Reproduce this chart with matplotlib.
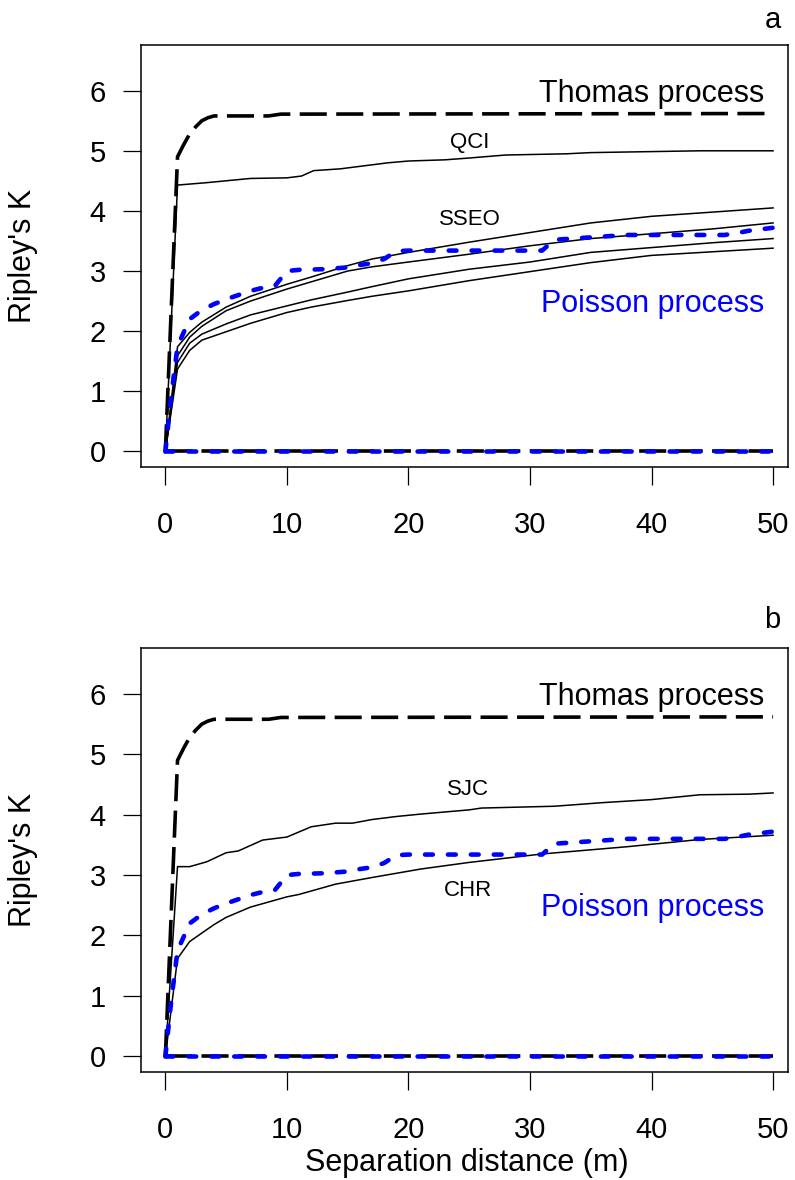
import matplotlib
matplotlib.use("Agg")
import matplotlib.pyplot as plt

plt.rcParams['font.family'] = ['Liberation Sans', 'DejaVu Sans']

# envelopes (same in both panels)
thomas_x = [0, 1, 1.5, 2, 2.5, 3, 3.5, 4, 8.5, 9.5, 50]
thomas_y = [0, 4.9, 5.1, 5.28, 5.4, 5.5, 5.55, 5.58, 5.58, 5.61, 5.62]
poisson_x = [0, 0.5, 1, 2, 3, 4, 5, 6, 7, 8, 9, 10, 11, 13, 15, 16, 17, 18, 19, 20, 31, 32, 35, 38, 46, 47, 48, 50]
poisson_y = [0, 0.95, 1.75, 2.2, 2.35, 2.45, 2.53, 2.6, 2.67, 2.72, 2.75, 3.0, 3.02, 3.03, 3.06, 3.1, 3.13, 3.2, 3.33, 3.34, 3.34, 3.52, 3.56, 3.6, 3.6, 3.63, 3.67, 3.72]
lower_x = [0, 50]
lower_y = [0, 0]

# panel a
qci_x = [0, 1, 3.4, 7, 10, 11.2, 12.2, 14.4, 18.3, 20, 23, 25, 28, 33, 35, 44, 50]
qci_y = [0, 4.43, 4.47, 4.54, 4.55, 4.58, 4.67, 4.70, 4.80, 4.83, 4.85, 4.88, 4.93, 4.95, 4.97, 5.0, 5.0]
sseo_x = [0, 1, 2, 3, 5, 7, 10, 12, 15, 17, 20, 25, 30, 35, 40, 45, 50]
sseo_1 = [0, 1.74, 1.98, 2.15, 2.40, 2.58, 2.78, 2.9, 3.09, 3.2, 3.31, 3.48, 3.64, 3.80, 3.91, 3.98, 4.05]
sseo_2 = [0, 1.59, 1.90, 2.08, 2.34, 2.50, 2.70, 2.82, 3.0, 3.07, 3.15, 3.28, 3.42, 3.54, 3.62, 3.70, 3.80]
sseo_3 = [0, 1.48, 1.80, 1.95, 2.12, 2.27, 2.42, 2.52, 2.65, 2.74, 2.87, 3.03, 3.15, 3.31, 3.39, 3.47, 3.54]
sseo_4 = [0, 1.37, 1.68, 1.85, 1.99, 2.13, 2.31, 2.40, 2.51, 2.58, 2.67, 2.84, 2.99, 3.14, 3.26, 3.32, 3.38]

# panel b
sjc_x = [0, 1, 2, 3.4, 5, 6, 8, 10, 12, 14, 15.4, 17, 19, 21, 25, 26, 32, 36, 40, 44, 48, 50]
sjc_y = [0, 3.14, 3.14, 3.22, 3.37, 3.40, 3.58, 3.63, 3.80, 3.86, 3.86, 3.92, 3.97, 4.01, 4.08, 4.11, 4.14, 4.2, 4.25, 4.33, 4.34, 4.36]
chr_x = [0, 1, 2, 4, 5, 7, 10, 11, 14, 17, 19, 21, 25, 31, 38, 44, 50]
chr_y = [0, 1.62, 1.9, 2.18, 2.3, 2.47, 2.64, 2.68, 2.85, 2.96, 3.03, 3.10, 3.21, 3.35, 3.47, 3.59, 3.66]

xticks = [0, 10, 20, 30, 40, 50]
yticks = [0, 1, 2, 3, 4, 5, 6]

W, H = 795, 1180
fig = plt.figure(figsize=(W / 100, H / 100), dpi=100)


def px_axes(left, top, right, bottom):
    return fig.add_axes([left / W, 1 - bottom / H, (right - left) / W, (bottom - top) / H])


def style(ax):
    ax.set_xlim(-2.03, 51.23)
    ax.set_ylim(-0.26, 6.76)
    ax.set_xticks(xticks)
    ax.set_yticks(yticks)
    ax.tick_params(axis='both', direction='out', length=13, width=0.9, labelsize=21)
    ax.tick_params(axis='x', pad=19)
    ax.tick_params(axis='y', pad=12)
    for s in ax.spines.values():
        s.set_linewidth(1.1)


def envelopes(ax):
    kw_t = dict(color='black', lw=2.6, dashes=(7.5, 2.6), dash_capstyle='butt', solid_capstyle='round')
    ax.plot(thomas_x, thomas_y, **kw_t)
    ax.plot(lower_x, lower_y, **kw_t)
    kw_p = dict(color='#0000ff', lw=3.3, dashes=(1.7, 3.3), dash_capstyle='round')
    ax.plot(poisson_x, poisson_y, **kw_p)
    ax.plot(lower_x, lower_y, **kw_p)
    ax.text(49.3, 5.95, 'Thomas process', ha='right', va='center', fontsize=22)


solid = dict(color='black', lw=1.1)

ax1 = px_axes(140.7, 45, 788, 467)
style(ax1)
for yy in [sseo_4, sseo_3, sseo_2, sseo_1]:
    ax1.plot(sseo_x, yy, **solid)
ax1.plot(qci_x, qci_y, **solid)
envelopes(ax1)
ax1.text(49.3, 2.45, 'Poisson process', ha='right', va='center', fontsize=22, color='#0000ff')
ax1.text(25.06, 5.14, 'QCI', ha='center', va='center', fontsize=16)
ax1.text(25.06, 3.85, 'SSEO', ha='center', va='center', fontsize=16)

ax2 = px_axes(140.7, 648, 788, 1072)
style(ax2)
ax2.plot(sjc_x, sjc_y, **solid)
ax2.plot(chr_x, chr_y, **solid)
envelopes(ax2)
ax2.text(49.3, 2.45, 'Poisson process', ha='right', va='center', fontsize=22, color='#0000ff')
ax2.text(24.9, 4.42, 'SJC', ha='center', va='center', fontsize=16)
ax2.text(24.9, 2.75, 'CHR', ha='center', va='center', fontsize=16)

fig.text(773 / W, 1 - 20 / H, 'a', ha='center', va='center', fontsize=21)
fig.text(772 / W, 1 - 620 / H, 'b', ha='center', va='center', fontsize=21)
fig.text(23 / W, 1 - 256 / H, "Ripley's K", rotation=90, ha='center', va='center', fontsize=22)
fig.text(23 / W, 1 - 860 / H, "Ripley's K", rotation=90, ha='center', va='center', fontsize=22)
fig.text(467 / W, 1 - 1163 / H, 'Separation distance (m)', ha='center', va='center', fontsize=22)

fig.savefig('out.png', dpi=100)
